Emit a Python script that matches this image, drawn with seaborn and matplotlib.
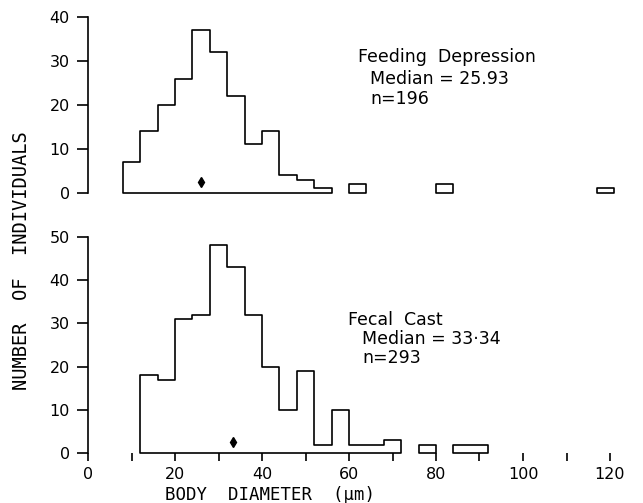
import numpy as np
import pandas as pd
import matplotlib
matplotlib.use("Agg")
import matplotlib.pyplot as plt
import seaborn as sns

# -------------------------------
# Data
# -------------------------------
BIN_WIDTH = 4

# Feeding depression: bin start (um) and number of individuals
feeding_bin_start = [8, 12, 16, 20, 24, 28, 32, 36, 40, 44, 48, 52, 60, 80, 117]
feeding_count = [7, 14, 20, 26, 37, 32, 22, 11, 14, 4, 3, 1, 2, 2, 1]
feeding_median = 25.93
feeding_n = 196

# Fecal cast
fecal_bin_start = [12, 16, 20, 24, 28, 32, 36, 40, 44, 48, 52, 56, 60, 64, 68,
                   76, 84, 88]
fecal_count = [18, 17, 31, 32, 48, 43, 32, 20, 10, 19, 2, 10, 2, 2, 3,
               2, 2, 2]
fecal_median = 33.34
fecal_n = 293

x_ticks_major = [0, 20, 40, 60, 80, 100, 120]
x_ticks_minor = [10, 30, 50, 70, 90, 110]

W, H = 643, 503


def px(x, y):
    # figure pixel position -> figure fraction
    return x / W, 1 - y / H


# -------------------------------
# Split histogram into contiguous runs so gaps stay open
# -------------------------------
def runs(starts, counts):
    groups = []
    cur = [(starts[0], counts[0])]
    for s, c in zip(starts[1:], counts[1:]):
        if s == cur[-1][0] + BIN_WIDTH:
            cur.append((s, c))
        else:
            groups.append(cur)
            cur = [(s, c)]
    groups.append(cur)
    return groups


def draw_hist(ax, starts, counts):
    for g in runs(starts, counts):
        df = pd.DataFrame({"start": [b for b, _ in g],
                           "count": [n for _, n in g]})
        df["mid"] = df["start"] + BIN_WIDTH / 2
        edges = df["start"].tolist() + [df["start"].iloc[-1] + BIN_WIDTH]
        sns.histplot(data=df, x="mid", weights="count", bins=edges,
                     element="step", fill=True, color="black",
                     facecolor="white", alpha=1, linewidth=1.2, ax=ax)


def style_axis(ax, ymax, step):
    ax.set_xlim(0, 124)
    ax.set_ylim(0, ymax)
    ax.set_yticks(np.arange(0, ymax + 1, step))
    for side in ["top", "right", "bottom"]:
        ax.spines[side].set_visible(False)
    ax.spines["left"].set_linewidth(1.2)
    ax.spines["left"].set_color("black")
    ax.tick_params(axis="y", left=True, length=8, width=1.2, pad=5,
                   labelsize=11.5, color="black", labelcolor="black")
    ax.set_xlabel("")
    ax.set_ylabel("")


# -------------------------------
# Plot
# -------------------------------
def main():
    sns.set_style("ticks")
    plt.rcParams["font.family"] = ["DejaVu Sans"]
    plt.rcParams["text.color"] = "black"

    fig = plt.figure(figsize=(W / 100, H / 100), dpi=100)
    left, width = 88 / W, 539.4 / W
    ax1 = fig.add_axes([left, 310.3 / H, width, 175.4 / H])
    ax2 = fig.add_axes([left, 49.7 / H, width, 216.6 / H])

    draw_hist(ax1, feeding_bin_start, feeding_count)
    draw_hist(ax2, fecal_bin_start, fecal_count)

    style_axis(ax1, 40, 10)
    ax1.set_xticks([])

    style_axis(ax2, 50, 10)
    ax2.set_xticks(x_ticks_major)
    ax2.set_xticks(x_ticks_minor, minor=True)
    ax2.tick_params(axis="x", which="both", length=6, width=1.2,
                    direction="out", bottom=True, labelsize=11.5, pad=4,
                    color="black", labelcolor="black")

    # median arrows
    ax1.plot([feeding_median], [2.4], marker="d", color="black",
             markersize=5.5, clip_on=False)
    ax2.plot([fecal_median], [2.6], marker="d", color="black",
             markersize=5.5, clip_on=False)

    # annotations
    fs = 12.5
    fig.text(*px(358, 62), "Feeding  Depression", fontsize=fs, va="baseline")
    fig.text(*px(370, 84), f"Median = {feeding_median:.2f}", fontsize=fs,
             va="baseline")
    fig.text(*px(370, 104), f"n={feeding_n}", fontsize=fs, va="baseline")

    fig.text(*px(348, 325), "Fecal  Cast", fontsize=fs, va="baseline")
    fig.text(*px(362, 344), "Median = 33\u00b734", fontsize=fs,
             va="baseline")
    fig.text(*px(362, 363), f"n={fecal_n}", fontsize=fs, va="baseline")

    # axis labels
    fig.text(*px(270, 495), "BODY  DIAMETER  (\u03bcm)", fontsize=12.5,
             family="DejaVu Sans Mono", ha="center", va="center")
    fig.text(*px(22, 261), "NUMBER  OF  INDIVIDUALS", fontsize=13.5,
             family="DejaVu Sans Mono", rotation=90, ha="center",
             va="center")

    fig.savefig("out.png", dpi=100)


if __name__ == "__main__":
    main()
